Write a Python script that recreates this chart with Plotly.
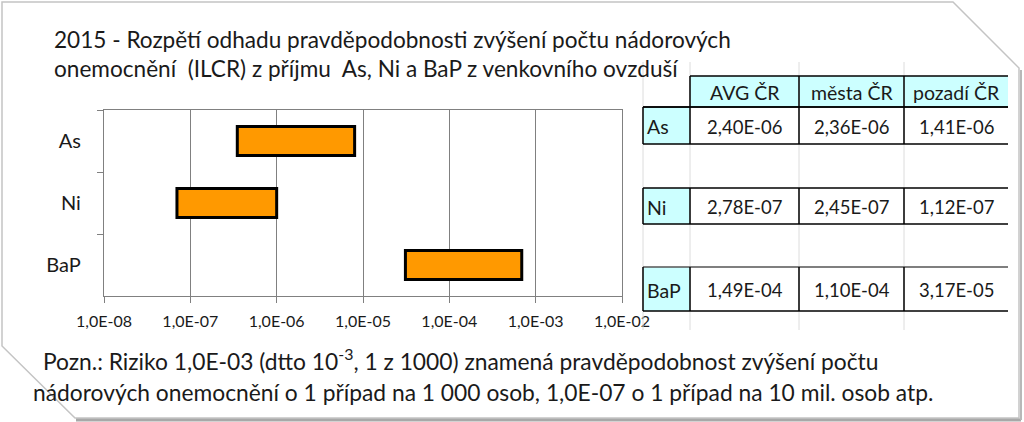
import plotly.graph_objects as go

# ---------------- data ----------------
categories = ["As", "Ni", "BaP"]
range_low = [3.5e-7, 7.0e-8, 3.1e-5]
range_high = [8.0e-6, 1.0e-6, 6.9e-4]

tick_vals = [1e-8, 1e-7, 1e-6, 1e-5, 1e-4, 1e-3, 1e-2]
tick_text = ["1,0E-08", "1,0E-07", "1,0E-06", "1,0E-05", "1,0E-04", "1,0E-03", "1,0E-02"]

table_header = ["AVG ČR", "města ČR", "pozadí ČR"]
table_rows = ["As", "Ni", "BaP"]
avg_cr = ["2,40E-06", "2,78E-07", "1,49E-04"]
mesta_cr = ["2,36E-06", "2,45E-07", "1,10E-04"]
pozadi_cr = ["1,41E-06", "1,12E-07", "3,17E-05"]

title_lines = [
    "2015 - Rozpětí odhadu pravděpodobnosti zvýšení počtu nádorových",
    "onemocnění &nbsp;(ILCR) z příjmu &nbsp;As, Ni a BaP z venkovního ovzduší",
]
note_lines = [
    "Pozn.: Riziko 1,0E-03 (dtto 10<sup>-3</sup>, 1 z 1000) znamená pravděpodobnost zvýšení počtu",
    "nádorových onemocnění o 1 případ na 1 000 osob, 1,0E-07 o 1 případ na 10 mil. osob atp.",
]

# ---------------- layout helpers ----------------
W, H = 1024, 422
FONT = "Lato"
TXT = "#1a1a1a"


def px(x):
    return x / W


def py(y):
    return 1 - y / H


shapes = []
annotations = []


def line(x0, y0, x1, y1, color="black", width=1.5):
    shapes.append(dict(type="line", xref="paper", yref="paper",
                       x0=px(x0), y0=py(y0), x1=px(x1), y1=py(y1),
                       line=dict(color=color, width=width), layer="above"))


def rect(x0, y0, x1, y1, fill):
    shapes.append(dict(type="rect", xref="paper", yref="paper",
                       x0=px(x0), y0=py(y0), x1=px(x1), y1=py(y1),
                       fillcolor=fill, line=dict(width=0), layer="below"))


def text(x, y, s, size, xanchor="left"):
    annotations.append(dict(xref="paper", yref="paper", x=px(x), y=py(y), text=s,
                            showarrow=False, xanchor=xanchor, yanchor="middle",
                            font=dict(family=FONT, size=size, color=TXT)))


# frame with snipped corners
pts = [(2, 2), (953, 2), (1019, 68), (1019, 418), (75, 418), (2, 346)]
path = "M " + " L ".join(f"{px(a)},{py(b)}" for a, b in pts) + " Z"
shapes.append(dict(type="path", xref="paper", yref="paper", path=path,
                   line=dict(color="#c4c4c4", width=1.5), layer="below"))
line(76, 420, 1021, 420, color="#a8a8a8", width=3)
line(1021, 70, 1021, 420, color="#b8b8b8", width=2)

# title and note
text(52, 39, title_lines[0], 22.6)
text(52, 68, title_lines[1], 22.6)
text(41, 359, note_lines[0], 22.8)
text(31, 392, note_lines[1], 22.8)

# ---------------- table ----------------
cx = [643, 690, 799, 904, 1008]
header_y = (76, 107)
row_y = [(107, 144), (188, 224), (267, 311)]

# faint sheet gridlines
for x in cx[:4]:
    line(x, 62, x, 330, color="#dcdcdc", width=1)

rect(cx[1], header_y[0], cx[4], header_y[1], "#ccffff")
for (y0, y1) in row_y:
    rect(cx[0], y0, cx[1], y1, "#ccffff")

# header borders
line(cx[1], header_y[0], cx[4], header_y[0])
line(cx[0], header_y[1], cx[4], header_y[1])
for x in cx[1:4]:
    line(x, header_y[0], x, header_y[1])
for j, h in enumerate(table_header):
    text((cx[j + 1] + cx[j + 2]) / 2, sum(header_y) / 2 + 1, h, 19.5, "center")

for i, (y0, y1) in enumerate(row_y):
    line(cx[0], y0, cx[4], y0, color=("#555555" if i == 2 else "black"))
    line(cx[0], y1, cx[4], y1)
    for x in cx[:4]:
        line(x, y0, x, y1)
    yc = (y0 + y1) / 2 + 1
    text(cx[0] + 2, yc, table_rows[i], 19.5)
    for j, col in enumerate([avg_cr, mesta_cr, pozadi_cr]):
        text((cx[j + 1] + cx[j + 2]) / 2, yc, col[i], 18.5, "center")

# ---------------- chart ----------------
fig = go.Figure()
fig.add_trace(go.Bar(
    y=categories,
    x=[h - l for l, h in zip(range_low, range_high)],
    base=range_low,
    orientation="h",
    width=0.47,
    marker=dict(color="#ff9900", line=dict(color="black", width=3)),
    hoverinfo="skip",
))

fig.update_layout(
    width=W, height=H,
    margin=dict(l=0, r=0, t=0, b=0),
    paper_bgcolor="white", plot_bgcolor="white",
    showlegend=False,
    shapes=shapes, annotations=annotations,
    xaxis=dict(
        type="log", range=[-8, -2], domain=[px(104), px(622)],
        tickvals=tick_vals, ticktext=tick_text,
        showgrid=True, gridcolor="#808080", gridwidth=1,
        showline=True, linecolor="#808080", linewidth=1.3, mirror=True,
        ticks="outside", ticklen=6, tickcolor="#808080",
        ticklabelstandoff=5,
        tickfont=dict(family=FONT, size=16, color=TXT),
        automargin=False, zeroline=False,
    ),
    yaxis=dict(
        type="category", categoryorder="array", categoryarray=categories,
        autorange="reversed", domain=[py(296), py(110)],
        showgrid=False, showline=True, linecolor="#808080", linewidth=1.3, mirror=True,
        ticks="outside", ticklen=6, tickcolor="#808080", tickson="boundaries",
        ticklabelstandoff=18,
        tickfont=dict(family=FONT, size=20, color=TXT),
        automargin=False,
    ),
)

fig.write_html("out.html", config={"displayModeBar": False},
               post_script="document.body.style.margin='0px';")
